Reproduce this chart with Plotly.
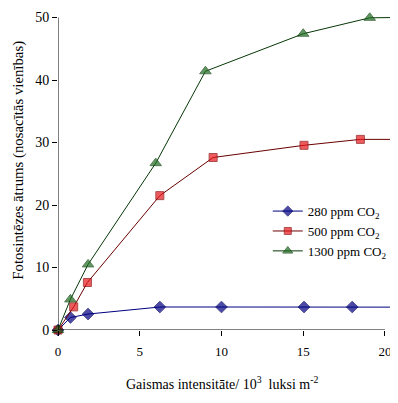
import plotly.graph_objects as go

# Data
x_280 = [0, 0.76, 1.84, 6.23, 10.0, 15.05, 18.0, 20.47]
y_280 = [0, 2.0, 2.55, 3.68, 3.68, 3.68, 3.68, 3.66]
x_500 = [0, 0.96, 1.8, 6.23, 9.49, 15.05, 18.5, 20.68]
y_500 = [0, 3.7, 7.6, 21.5, 27.6, 29.55, 30.5, 30.5]
x_1300 = [0, 0.76, 1.84, 5.98, 9.02, 15.0, 19.07, 20.8]
y_1300 = [0, 4.9, 10.5, 26.7, 41.4, 47.4, 49.95, 50]
# last point of each series is only a line continuation (no marker)
marked = [True, True, True, True, True, True, True, False]

names = ["280 ppm CO<sub>2</sub>", "500 ppm CO<sub>2</sub>", "1300 ppm CO<sub>2</sub>"]
x_ticks = [0, 5, 10, 15, 20]
y_ticks = [0, 10, 20, 30, 40, 50]

FONT = "Liberation Serif, Times New Roman, serif"

def sizes(s):
    return [s if m else 0 for m in marked]

fig = go.Figure()
fig.add_trace(go.Scatter(
    x=x_280, y=y_280, name=names[0], mode="lines+markers", cliponaxis=False,
    line=dict(color="#000080", width=1),
    marker=dict(symbol="diamond", size=sizes(9), color="#000080",
                line=dict(color="#000060", width=1))))
fig.add_trace(go.Scatter(
    x=x_500, y=y_500, name=names[1], mode="lines+markers", cliponaxis=False,
    line=dict(color="#6a0000", width=1),
    marker=dict(symbol="square", size=sizes(8), color="#e8161b",
                line=dict(color="#8a0000", width=1))))
fig.add_trace(go.Scatter(
    x=x_1300, y=y_1300, name=names[2], mode="lines+markers", cliponaxis=False,
    line=dict(color="#063806", width=1),
    marker=dict(symbol="triangle-up", size=sizes(10), color="#1d6b1d",
                line=dict(color="#0b400b", width=1))))

# axis lines spanning the tick range only
fig.add_shape(type="line", xref="x", yref="y", x0=x_ticks[0], x1=x_ticks[-1],
              y0=y_ticks[0], y1=y_ticks[0], line=dict(color="black", width=1))
fig.add_shape(type="line", xref="x", yref="y", x0=x_ticks[0], x1=x_ticks[0],
              y0=y_ticks[0], y1=y_ticks[-1], line=dict(color="black", width=1))

fig.add_annotation(
    text="Gaismas intensitāte/ 10<sup>3</sup>  luksi m<sup>-2</sup>",
    xref="x", yref="paper", x=10.05, y=0, yshift=-53, yanchor="middle",
    showarrow=False, font=dict(family=FONT, size=14, color="black"))
fig.add_annotation(
    text="Fotosintēzes ātrums (nosacītās vienības)", textangle=-90,
    xref="paper", yref="y", x=0, xshift=-39, y=27.1,
    xanchor="center", yanchor="middle",
    showarrow=False, font=dict(family=FONT, size=14.8, color="black"))

# the page body adds an 8px offset, so the figure is 8px smaller
fig.update_layout(
    width=390, height=395,
    margin=dict(l=50, r=0, t=7, b=73),
    paper_bgcolor="white", plot_bgcolor="white",
    font=dict(family=FONT, size=13, color="black"),
    showlegend=True,
    legend=dict(x=0.617, y=0.425, xanchor="left", yanchor="top",
                bgcolor="rgba(0,0,0,0)", borderwidth=0,
                font=dict(family=FONT, size=13, color="black"),
                tracegroupgap=0),
    xaxis=dict(range=[0, 20.8], tickvals=x_ticks, ticks="outside", ticklen=5,
               tickcolor="black", showgrid=False, zeroline=False, showline=False,
               automargin=False, ticklabelstandoff=4,
               tickfont=dict(family=FONT, size=13)),
    yaxis=dict(range=[0, 50.4], tickvals=y_ticks, ticks="outside", ticklen=5,
               tickcolor="black", showgrid=False, zeroline=False, showline=False,
               automargin=False, tickfont=dict(family=FONT, size=14)),
)

fig.write_html("out.html")
